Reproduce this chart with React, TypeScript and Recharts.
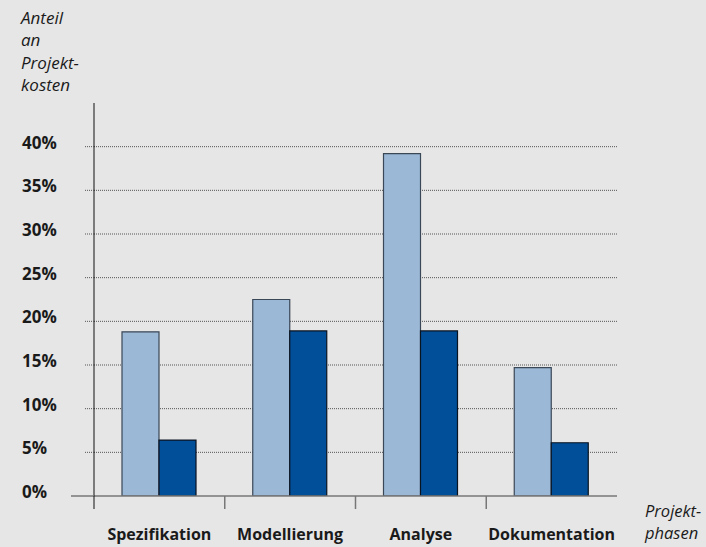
import React from 'react';
import { BarChart, Bar, XAxis, YAxis, CartesianGrid } from 'recharts';

const phases = ['Spezifikation', 'Modellierung', 'Analyse', 'Dokumentation'];
const lightValues = [18.8, 22.5, 39.2, 14.7];
const darkValues = [6.4, 18.9, 18.9, 6.1];
const yTicks = [0, 5, 10, 15, 20, 25, 30, 35, 40];
const gridValues = [5, 10, 15, 20, 25, 30, 35, 40];
const yTitleLines = ['Anteil', 'an', 'Projekt-', 'kosten'];
const xTitleLines = ['Projekt-', 'phasen'];

const data = phases.map((p, i) => ({ phase: p, a: lightValues[i], b: darkValues[i] }));

const FONT = '"Open Sans", "DejaVu Sans", sans-serif';

const YTick = (props: any) => {
  const { x, y, payload } = props;
  const v = payload.value;
  return (
    <g>
      <text x={x - 72} y={y} dy={2} textAnchor="start" fontFamily={FONT} fontWeight={700} fontSize={17} fill="#1a1a1a">
        {v}%
      </text>
      {v === 0 ? (
        <>
          <line x1={x - 23} x2={x} y1={y} y2={y} stroke="#777" strokeWidth={1.5} />
          <line x1={x} x2={x} y1={y} y2={y + 13} stroke="#111" strokeWidth={1} />
        </>
      ) : (
        <line x1={x - 9} x2={x} y1={y} y2={y} stroke="#555" strokeDasharray="1 1" />
      )}
    </g>
  );
};

const XTick = (props: any) => {
  const { x, y, payload, width, index } = props;
  const half = width / (2 * phases.length);
  return (
    <g>
      {index > 0 && (
        <line x1={x - half} x2={x - half} y1={y} y2={y + 13} stroke="#777" strokeWidth={1.5} />
      )}
      <text x={x} y={y} dy={44} textAnchor="middle" fontFamily={FONT} fontWeight={700} fontSize={16} fill="#1a1a1a">
        {payload.value}
      </text>
    </g>
  );
};

export default function App() {
  return (
    <div style={{ position: 'absolute', left: 0, top: 0, width: 706, height: 547, background: '#e6e6e6' }}>
      <div style={{ position: 'absolute', left: 21, top: 7, fontFamily: FONT, fontStyle: 'italic', fontSize: 17, lineHeight: '22.3px', color: '#1a1a1a' }}>
        {yTitleLines.map((t) => (
          <div key={t}>{t}</div>
        ))}
      </div>
      <div style={{ position: 'absolute', left: 645, top: 500, fontFamily: FONT, fontStyle: 'italic', fontSize: 16.5, lineHeight: '22px', color: '#1a1a1a' }}>
        {xTitleLines.map((t) => (
          <div key={t}>{t}</div>
        ))}
      </div>
      <BarChart
        width={706}
        height={547}
        data={data}
        margin={{ top: 103, right: 89, bottom: 0, left: 0 }}
        barGap={0}
        barSize={37}
        style={{ position: 'absolute', left: 0, top: 0 }}
      >
        <CartesianGrid
          horizontal
          vertical={false}
          horizontalValues={gridValues}
          stroke="#555"
          strokeDasharray="1 1"
        />
        <XAxis
          dataKey="phase"
          height={51}
          axisLine={{ stroke: '#777', strokeWidth: 1.5 }}
          tickLine={false}
          tickSize={0}
          tickMargin={0}
          tick={<XTick />}
          interval={0}
        />
        <YAxis
          width={94}
          domain={[0, 45]}
          ticks={yTicks}
          allowDataOverflow
          axisLine={{ stroke: '#111', strokeWidth: 1 }}
          tickLine={false}
          tickSize={0}
          tickMargin={0}
          tick={<YTick />}
          interval={0}
        />
        <Bar dataKey="a" fill="#9bb8d7" stroke="#3a4756" strokeWidth={1.2} isAnimationActive={false} />
        <Bar dataKey="b" fill="#004f98" stroke="#0a1320" strokeWidth={1.2} isAnimationActive={false} />
      </BarChart>
    </div>
  );
}
